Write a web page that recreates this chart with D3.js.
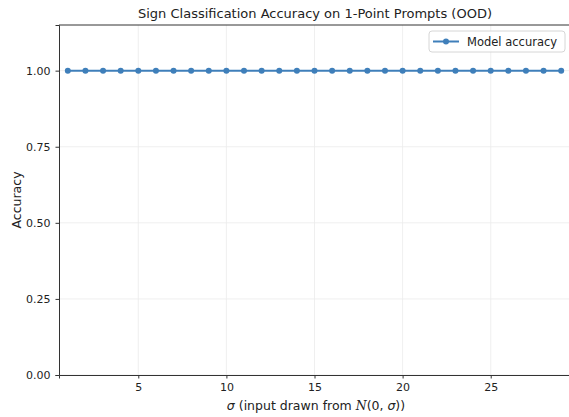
<!DOCTYPE html>
<html>
<head>
<meta charset="utf-8">
<script src="https://cdn.jsdelivr.net/npm/d3@7"></script>
<style>
  body { margin: 0; background: #fff; }
  text { font-family: "DejaVu Sans", sans-serif; fill: #222; }
</style>
</head>
<body>
<svg id="chart"></svg>
<script>
// sigma values and model accuracy
const sigmas = d3.range(1, 30);
const accuracy = [1, 1, 1, 1, 1, 1, 1, 1, 1, 1, 1, 1, 1, 1, 1, 1, 1, 1, 1, 1, 1, 1, 1, 1, 1, 1, 1, 1, 1];
const xTicks = [5, 10, 15, 20, 25];
const yTicks = [0, 0.25, 0.5, 0.75, 1.0];

const width = 569, height = 417;
const margin = {top: 25, right: -1, bottom: 42, left: 59};
const w = width - margin.left - margin.right;
const h = height - margin.top - margin.bottom;

const svg = d3.select('#chart')
    .attr('width', width)
    .attr('height', height);

const chart = svg.append('g')
    .attr('transform', `translate(${margin.left},${margin.top})`);

const xScale = d3.scaleLinear().domain([0.5, 29.5]).range([0, w]);
const yScale = d3.scaleLinear().domain([0, 1.15]).range([h, 0]);

// gridlines
chart.append('g').selectAll('line')
    .data(xTicks)
  .join('line')
    .attr('x1', d => xScale(d)).attr('x2', d => xScale(d))
    .attr('y1', 0).attr('y2', h)
    .attr('stroke', '#ebebeb').attr('stroke-width', 0.8);

chart.append('g').selectAll('line')
    .data(yTicks)
  .join('line')
    .attr('x1', 0).attr('x2', w)
    .attr('y1', d => yScale(d)).attr('y2', d => yScale(d))
    .attr('stroke', '#ebebeb').attr('stroke-width', 0.8);

// axes
const xAxis = d3.axisBottom(xScale).tickValues(xTicks).tickSize(3.5).tickPadding(5)
    .tickFormat(d3.format('d'));
const yAxis = d3.axisLeft(yScale).tickValues(yTicks).tickSize(3.5).tickPadding(5)
    .tickFormat(d3.format('.2f'));

const xAxisG = chart.append('g')
    .attr('transform', `translate(0,${h})`)
    .call(xAxis);
const yAxisG = chart.append('g').call(yAxis);

[xAxisG, yAxisG].forEach(g => {
    g.select('.domain').attr('stroke', '#333').attr('stroke-width', 1);
    g.selectAll('.tick line').attr('stroke', '#333');
    g.selectAll('.tick text').style('font-size', '11px').attr('fill', '#222')
        .style('font-family', '"DejaVu Sans", sans-serif');
});

// top spine
chart.append('line')
    .attr('x1', 0).attr('x2', w).attr('y1', 0).attr('y2', 0)
    .attr('stroke', '#333').attr('stroke-width', 1);

// data line + markers
const color = '#3f7fba';
const pts = sigmas.map((s, i) => ({x: s, y: accuracy[i]}));

chart.append('path')
    .datum(pts)
    .attr('fill', 'none')
    .attr('stroke', color)
    .attr('stroke-width', 2)
    .attr('d', d3.line().x(d => xScale(d.x)).y(d => yScale(d.y)));

chart.selectAll('.point')
    .data(pts)
  .join('circle')
    .attr('class', 'point')
    .attr('r', 3)
    .attr('cx', d => xScale(d.x))
    .attr('cy', d => yScale(d.y))
    .attr('fill', color);

// title and axis labels
svg.append('text')
    .attr('x', 315).attr('y', 18)
    .attr('text-anchor', 'middle')
    .style('font-size', '13px')
    .text('Sign Classification Accuracy on 1-Point Prompts (OOD)');

svg.append('text')
    .attr('transform', `translate(21,${margin.top + h / 2}) rotate(-90)`)
    .attr('text-anchor', 'middle')
    .style('font-size', '12.5px')
    .text('Accuracy');

const xl = svg.append('text')
    .attr('x', 316).attr('y', 410)
    .attr('text-anchor', 'middle')
    .style('font-size', '12.5px');
xl.append('tspan').style('font-style', 'italic').text('σ');
xl.append('tspan').text(' (input drawn from ');
xl.append('tspan').style('font-style', 'italic')
    .style('font-family', '"DejaVu Serif", serif').text('N');
xl.append('tspan').text('(0,');
xl.append('tspan').style('font-style', 'italic').text(' σ');
xl.append('tspan').text('))');

// legend
const lg = svg.append('g').attr('transform', 'translate(429,31)');
lg.append('rect')
    .attr('width', 136).attr('height', 21).attr('rx', 3)
    .attr('fill', '#fff').attr('fill-opacity', 0.8)
    .attr('stroke', '#d6d6d6');
lg.append('line')
    .attr('x1', 4).attr('x2', 30).attr('y1', 10.5).attr('y2', 10.5)
    .attr('stroke', color).attr('stroke-width', 2);
lg.append('circle')
    .attr('cx', 17).attr('cy', 10.5).attr('r', 3).attr('fill', color);
lg.append('text')
    .attr('x', 38).attr('y', 14.5)
    .style('font-size', '11.5px')
    .text('Model accuracy');
</script>
</body>
</html>
